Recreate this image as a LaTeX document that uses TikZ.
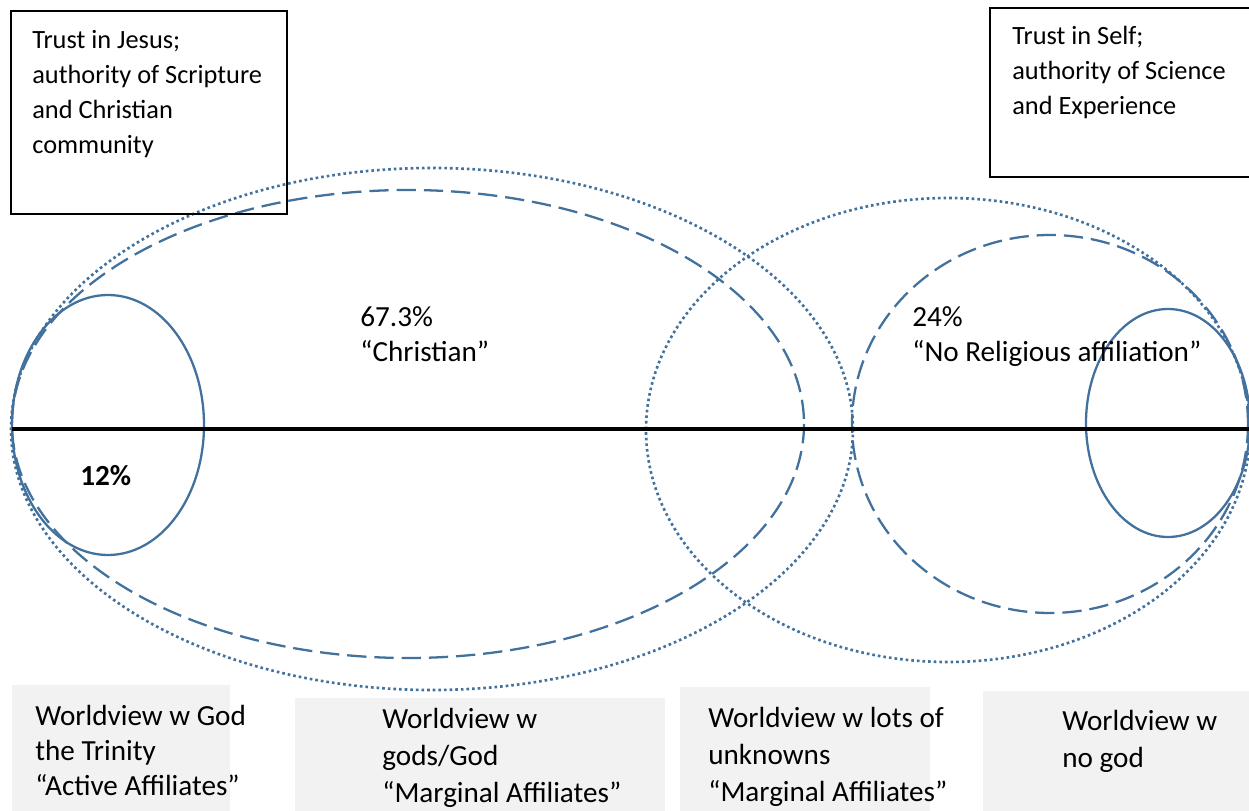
\documentclass[tikz,border=0pt]{standalone}
\usepackage{fontspec}
\setmainfont{Carlito}
\usepackage{tikz}
\definecolor{ringblue}{HTML}{41719C}
\definecolor{boxgray}{HTML}{F2F2F2}

\begin{document}
\begin{tikzpicture}[x=0.02cm,y=-0.02cm,
  ring/.style={ringblue,line width=1.3pt},
  dotring/.style={ringblue,line width=1.5pt,dash pattern=on 1.5pt off 1.7pt},
  dashring/.style={ringblue,line width=1.3pt,dash pattern=on 11pt off 4.5pt},
  txt/.style={anchor=north west,inner sep=0pt,align=left,
    font=\fontsize{15}{20}\selectfont,execute at begin node=\strut},
  bigtxt/.style={txt,font=\fontsize{16.6}{20}\selectfont},
  boxtxt/.style={txt,font=\fontsize{16.6}{21}\selectfont}]
  \useasboundingbox (0,0) rectangle (1249,811);
  \clip (0,0) rectangle (1249,811);
  \coordinate (Cchr) at (432,429);
  \coordinate (Cmar) at (408,424);
  \coordinate (Cact) at (108,425);
  \coordinate (Cunk) at (948,430);
  \coordinate (Cnone) at (1050,424);
  \coordinate (Cgod) at (1168,423);
  \coordinate (L) at (12,429);
  \coordinate (R) at (1262,429);
  % rings
  \draw[dotring] (Cchr) ellipse [x radius=421, y radius=261];
  \draw[dashring] (Cmar) ellipse [x radius=396, y radius=234];
  \draw[ring] (Cact) ellipse [x radius=96, y radius=130];
  \draw[dotring] (Cunk) ellipse [x radius=302, y radius=232];
  \draw[dashring] (Cnone) ellipse [x radius=198, y radius=189];
  \draw[ring] (Cgod) ellipse [x radius=82, y radius=114];
  \draw[line width=2pt] (L) -- (R);
  % boxes
  \draw[line width=0.8pt] (11,11) rectangle (287,214);
  \draw[line width=0.8pt] (990,8) rectangle (1262,177);
  \fill[boxgray] (12,685) rectangle (230,820);
  \fill[boxgray] (295,698) rectangle (665,820);
  \fill[boxgray] (680,687) rectangle (930,820);
  \fill[boxgray] (983,691) rectangle (1262,820);
  % labels
  \node[txt] (jesus) at (32,30) {Trust in Jesus;\\authority of Scripture\\and Christian\\community};
  \node[txt] (self) at (1012,26) {Trust in Self;\\authority of Science\\and Experience};
  \node[bigtxt] (chr) at (360,306) {67.3\%\\“Christian”};
  \node[bigtxt] (none) at (912,306) {24\%\\“No Religious affiliation”};
  \node[bigtxt,font=\fontsize{16.6}{20}\selectfont\bfseries] (act) at (80,461) {12\%};
  \node[bigtxt] (trin) at (35,705) {Worldview w God\\the Trinity\\“Active Affiliates”};
  \node[boxtxt] (gods) at (382,708) {Worldview w\\gods/God\\“Marginal Affiliates”};
  \node[boxtxt] (unk) at (708,707) {Worldview w lots of\\unknowns\\“Marginal Affiliates”};
  \node[boxtxt] (nogod) at (1062,710) {Worldview w\\no god};
\end{tikzpicture}
\end{document}
